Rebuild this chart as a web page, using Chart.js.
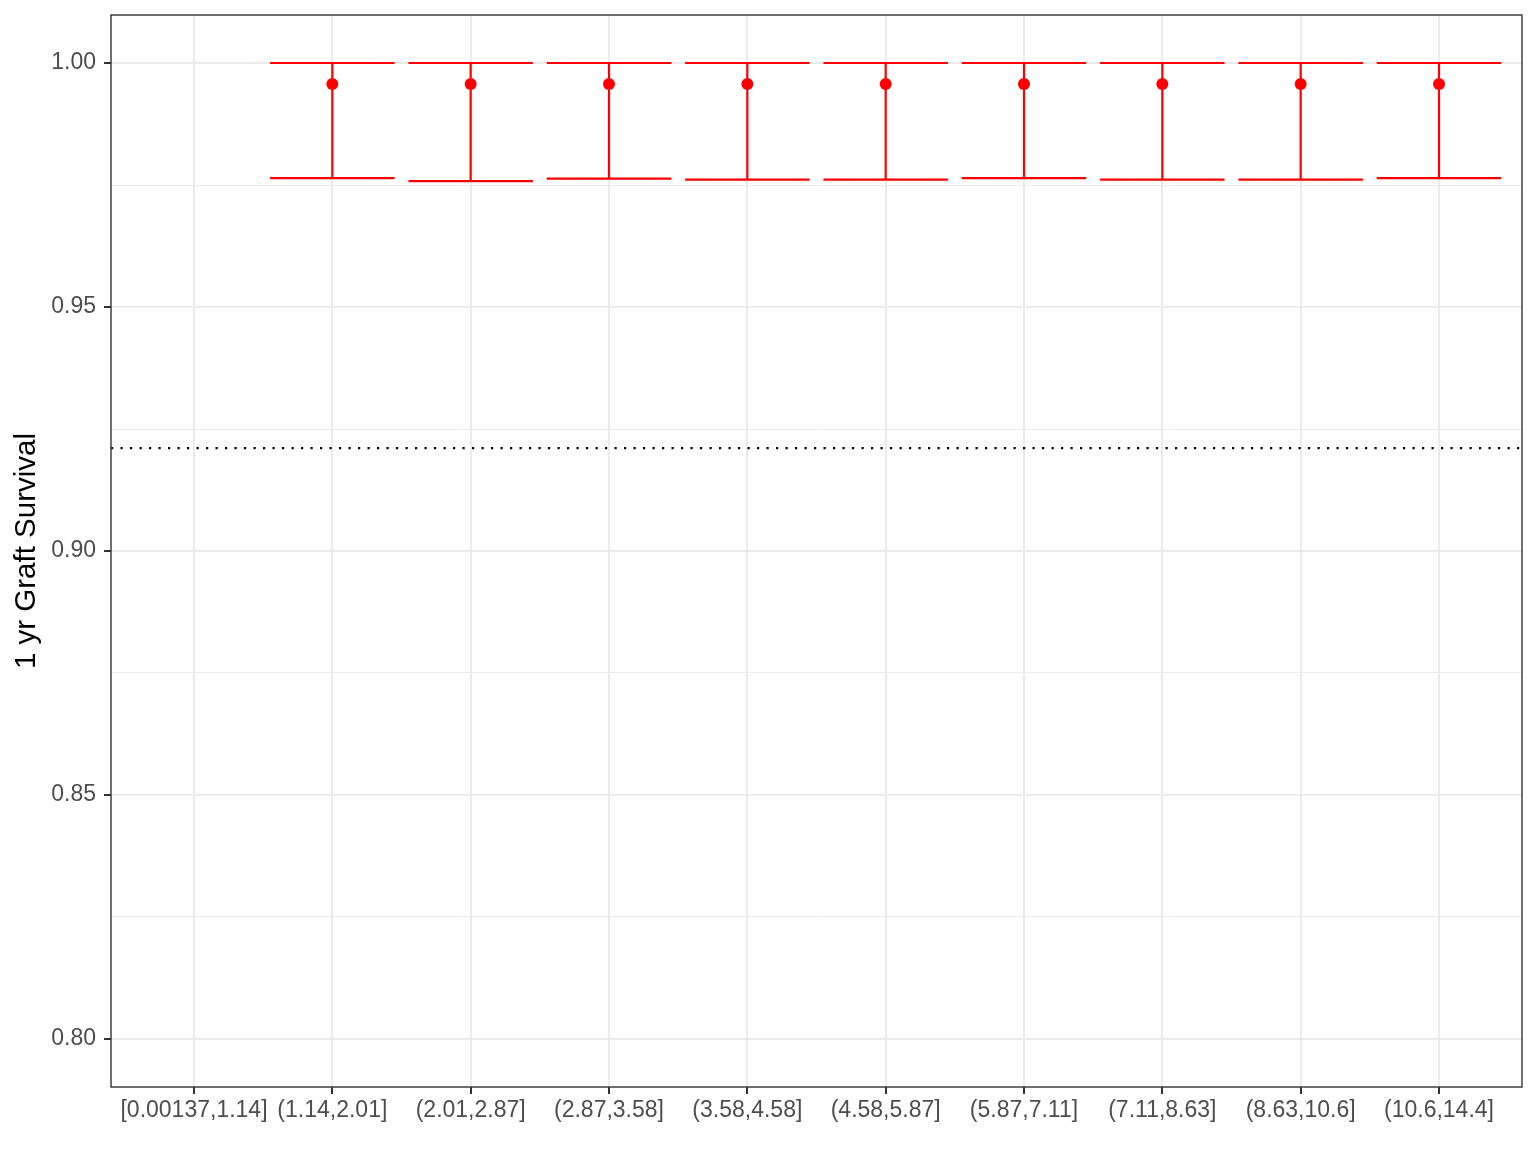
<!DOCTYPE html>
<html><head><meta charset="utf-8">
<script src="https://cdn.jsdelivr.net/npm/chart.js@4"></script>
<style>html,body{margin:0;padding:0;background:#fff;}</style>
</head><body>
<canvas id="c" width="1536" height="1152"></canvas>
<script>
const categories = ["[0.00137,1.14]","(1.14,2.01]","(2.01,2.87]","(2.87,3.58]","(3.58,4.58]","(4.58,5.87]","(5.87,7.11]","(7.11,8.63]","(8.63,10.6]","(10.6,14.4]"];
const survival = [null,0.9957,0.9957,0.9957,0.9957,0.9957,0.9957,0.9957,0.9957,0.9957];
const lower = [null,0.9764,0.9758,0.9763,0.9761,0.9761,0.9764,0.9761,0.9761,0.9764];
const upper = [null,1.0,1.0,1.0,1.0,1.0,1.0,1.0,1.0,1.0];
const referenceLine = 0.9211;
const yMajorTicks = [0.80,0.85,0.90,0.95,1.00];
const yMinorTicks = [0.825,0.875,0.925,0.975];
const yTitle = "1 yr Graft Survival";

const FONT = "'Liberation Sans', Arial, sans-serif";
const isMinor = v => yMinorTicks.some(m => Math.abs(m - v) < 1e-9);

const extras = {
  id: 'extras',
  beforeDatasetsDraw(chart) {
    const {ctx, chartArea: a, scales: {x, y}} = chart;
    ctx.save();
    ctx.beginPath(); ctx.rect(a.left, a.top, a.right - a.left, a.bottom - a.top); ctx.clip();
    ctx.strokeStyle = '#000'; ctx.lineWidth = 2.2; ctx.setLineDash([2.2, 7.3]);
    const ry = y.getPixelForValue(referenceLine);
    ctx.beginPath(); ctx.moveTo(a.left, ry); ctx.lineTo(a.right, ry); ctx.stroke();
    ctx.setLineDash([]);
    ctx.strokeStyle = '#FF0000'; ctx.lineWidth = 2.2;
    for (let i = 0; i < categories.length; i++) {
      if (lower[i] == null) continue;
      const cx = x.getPixelForValue(i), l = x.getPixelForValue(i - 0.45), r = x.getPixelForValue(i + 0.45);
      const yl = y.getPixelForValue(lower[i]), yu = y.getPixelForValue(upper[i]);
      ctx.beginPath();
      ctx.moveTo(cx, yl); ctx.lineTo(cx, yu);
      ctx.moveTo(l, yl); ctx.lineTo(r, yl);
      ctx.moveTo(l, yu); ctx.lineTo(r, yu);
      ctx.stroke();
    }
    ctx.restore();
  },
  afterDraw(chart) {
    const {ctx, chartArea: a} = chart;
    ctx.save();
    ctx.strokeStyle = '#333333'; ctx.lineWidth = 1.4;
    ctx.strokeRect(a.left, a.top, a.right - a.left, a.bottom - a.top);
    ctx.restore();
  }
};

new Chart(document.getElementById('c'), {
  type: 'scatter',
  data: {
    datasets: [{
      data: survival.map((v, i) => v == null ? null : {x: i, y: v}).filter(p => p),
      pointRadius: 6, pointHoverRadius: 6, pointBorderWidth: 0,
      backgroundColor: '#FF0000', borderColor: '#FF0000', showLine: false
    }]
  },
  options: {
    responsive: false, animation: false, devicePixelRatio: 1,
    layout: {padding: {left: 0, top: 15, right: 14, bottom: 0}},
    plugins: {legend: {display: false}, tooltip: {enabled: false}},
    scales: {
      x: {
        type: 'linear', min: -0.6, max: 9.6,
        afterBuildTicks: s => { s.ticks = categories.map((c, i) => ({value: i})); },
        afterFit: s => { s.height = 65; s.paddingLeft = 0; s.paddingRight = 0; },
        ticks: {
          autoSkip: false, maxRotation: 0, minRotation: 0, padding: 3,
          color: '#4D4D4D', font: {family: FONT, size: 23},
          callback: (v, i) => categories[i]
        },
        grid: {color: '#EBEBEB', lineWidth: 2, tickColor: '#333333', tickLength: 7, drawTicks: true},
        border: {display: false}
      },
      y: {
        type: 'linear', min: 0.79016, max: 1.00984,
        afterBuildTicks: s => { s.ticks = yMajorTicks.concat(yMinorTicks).sort((a, b) => a - b).map(v => ({value: v})); },
        afterFit: s => { s.width = 111; s.paddingTop = 0; s.paddingBottom = 0; },
        ticks: {
          autoSkip: false, padding: 8,
          color: '#4D4D4D', font: {family: FONT, size: 23},
          callback: v => isMinor(v) ? '' : v.toFixed(2)
        },
        grid: {
          color: '#EBEBEB',
          lineWidth: c => (c.tick && isMinor(c.tick.value)) ? 1 : 2,
          tickColor: c => (c.tick && isMinor(c.tick.value)) ? 'rgba(0,0,0,0)' : '#333333',
          tickLength: 7, drawTicks: true
        },
        border: {display: false},
        title: {display: true, text: yTitle, color: '#000', font: {family: FONT, size: 29.5}, padding: {top: 9, bottom: 0}}
      }
    }
  },
  plugins: [extras]
});
</script>
</body></html>
